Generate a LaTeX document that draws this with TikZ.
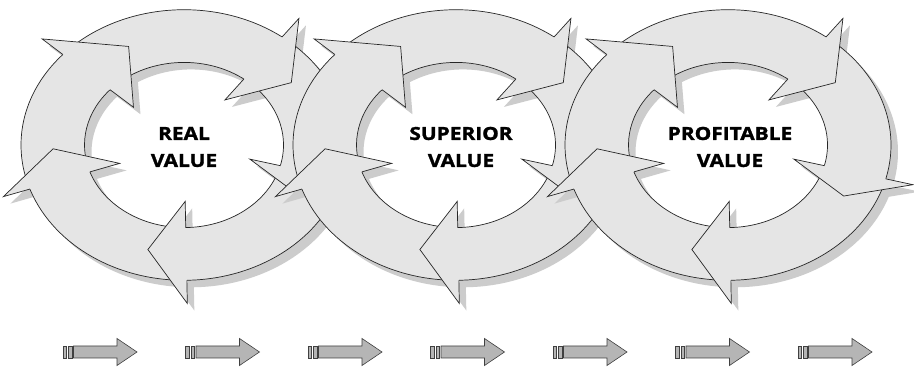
\documentclass[tikz,border=0pt]{standalone}
\usepackage{fontspec}
\setmainfont{Open Sans}
\newfontfamily\lblfont[FakeStretch=1.16,BoldFeatures={FakeBold=1.6}]{Open Sans}
\tikzset{
  x=1pt,y=1pt,
  bandfill/.style={fill=gray!20},
  shadowfill/.style={fill=gray!40},
  ringline/.style={draw=black!85,line width=0.7pt,line join=miter},
  vlabel/.style={font=\lblfont\bfseries\fontsize{18}{27}\selectfont,align=center,text=black},
  smallarrow/.style={fill=gray!58,draw=black!75,line width=0.6pt},
}
\def\Ro{163}\def\Ri{99.5}\def\Rb{191}\def\Rc{68}\def\Rt{131}
\def\arrowlist{199/138/115,138/53/35,53/-14.5/-28,-14.5/-89/-106,-89/-161/-178}
\newcommand\ringshadow{%
  \foreach \aS/\aB/\aT in \arrowlist{%
    \pgfmathsetmacro\aE{\aB-1.5}
    \fill[shadowfill] (\aS:\Ro) arc[start angle=\aS,end angle=\aE,radius=\Ro] -- (\aE:\Ri) arc[start angle=\aE,end angle=\aS,radius=\Ri] -- cycle;
    \fill[shadowfill] (\aB:\Rb) -- (\aT:\Rt) -- (\aB:\Rc) -- cycle;
  }}
\newcommand\ringmain{%
  \foreach \aS/\aB/\aT in \arrowlist{%
    \pgfmathsetmacro\aE{\aB-1.5}
    \fill[bandfill] (\aS:\Ro) arc[start angle=\aS,end angle=\aE,radius=\Ro] -- (\aE:\Ri) arc[start angle=\aE,end angle=\aS,radius=\Ri] -- cycle;
    \draw[ringline] (\aS:\Ro) arc[start angle=\aS,end angle=\aE,radius=\Ro];
    \draw[ringline] (\aS:\Ri) arc[start angle=\aS,end angle=\aE,radius=\Ri];
  }
  \foreach \aS/\aB/\aT in \arrowlist{%
    \fill[bandfill] (\aB:\Rb) -- (\aT:\Rt) -- (\aB:\Rc) -- cycle;
    \draw[ringline] (\aB:\Ro) -- (\aB:\Rb) -- (\aT:\Rt) -- (\aB:\Rc) -- (\aB:\Ri);
  }}
\begin{document}
\begin{tikzpicture}
\useasboundingbox (0,0) rectangle (914,367);
\fill[white] (0,0) rectangle (914,367);
\foreach \cx in {184,456,728}{%
  \begin{scope}[shift={(\cx+7,222-7)},yscale=0.83]\ringshadow\end{scope}
  \begin{scope}[shift={(\cx,222)},yscale=0.83]\ringmain\end{scope}
}
\node[vlabel] (t1) at (184,220) {REAL\\VALUE};
\node[vlabel] (t2) at (461,220) {SUPERIOR\\VALUE};
\node[vlabel] (t3) at (730,220) {PROFITABLE\\VALUE};
\foreach \i in {0,...,6}{%
  \begin{scope}[shift={({63+122.5*\i},15)}]
    \filldraw[smallarrow] (0,-6) rectangle (3.5,6);
    \filldraw[smallarrow] (5.5,-6) rectangle (9,6);
    \filldraw[smallarrow] (10.5,-6) -- (54,-6) -- (54,-13.5) -- (74,0) -- (54,13.5) -- (54,6) -- (10.5,6) -- cycle;
  \end{scope}
}
\end{tikzpicture}
\end{document}
